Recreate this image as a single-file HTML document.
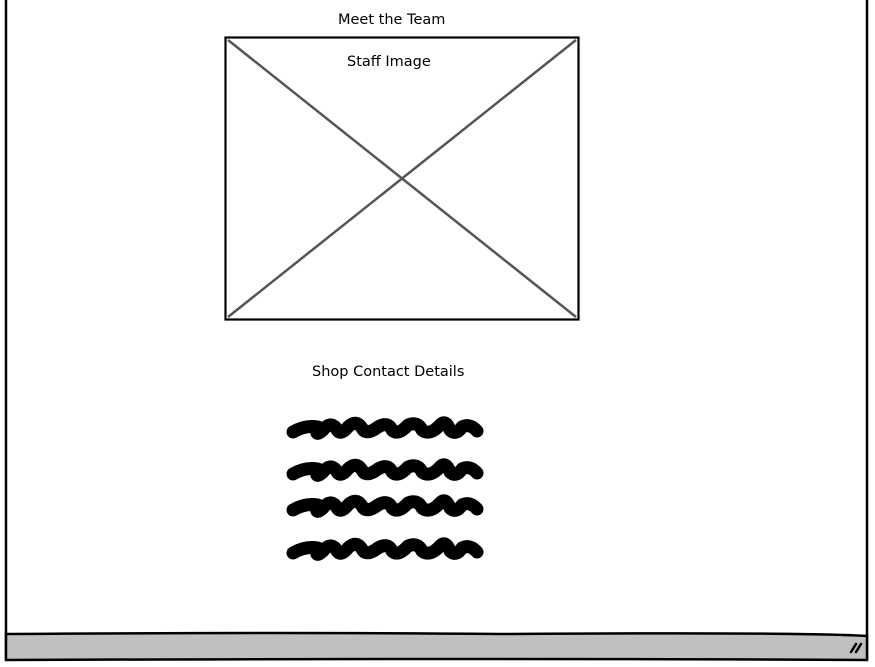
<!DOCTYPE html>
<html><head><meta charset="utf-8"><style>
body{margin:0;width:875px;height:667px;background:#fff;overflow:hidden;font-family:"DejaVu Sans","Liberation Sans",sans-serif;}
.t{position:absolute;font-size:14.5px;color:#000;white-space:nowrap;}
</style></head><body>
<svg width="875" height="667" style="position:absolute;left:0;top:0">
<line x1="6" y1="0" x2="6" y2="660" stroke="#000" stroke-width="2.5"/>
<line x1="867" y1="0" x2="867" y2="660" stroke="#000" stroke-width="2.5"/>
<path d="M6 634 Q300 632 500 634 Q800 632 867 636 L867 660 Q500 658 6 660 Z" fill="#c0c0c0" stroke="#000" stroke-width="2.5"/>
<path d="M851 652 L856 644 M856 652 L861 644" stroke="#000" stroke-width="2.5" stroke-linecap="round"/>
<rect x="225.5" y="37.5" width="353" height="282" fill="#fff" stroke="#000" stroke-width="2.2"/>
<line x1="228" y1="40" x2="576" y2="317" stroke="#555" stroke-width="2.5"/>
<line x1="576" y1="40" x2="228" y2="317" stroke="#555" stroke-width="2.5"/>
<g fill="none" stroke="#000" stroke-width="13" stroke-linecap="round" stroke-linejoin="round">
<path id="sc" d="M293 432 Q305 425 318 427 Q314 438 323 430 Q330 421 336 428 Q340 437 348 427 Q356 419 362 428 Q366 436 378 427 Q388 421 392 430 Q398 436 408 425 Q418 421 422 430 Q430 436 440 425 Q446 419 450 430 Q456 436 462 427 Q470 423 477 431"/>
<use href="#sc" y="42"/>
<use href="#sc" y="78"/>
<use href="#sc" y="121"/>
</g>
</svg>
<div class="t" style="left:338px;top:12px">Meet the Team</div>
<div class="t" style="left:347px;top:54px">Staff Image</div>
<div class="t" style="left:312px;top:364px">Shop Contact Details</div>
</body></html>
